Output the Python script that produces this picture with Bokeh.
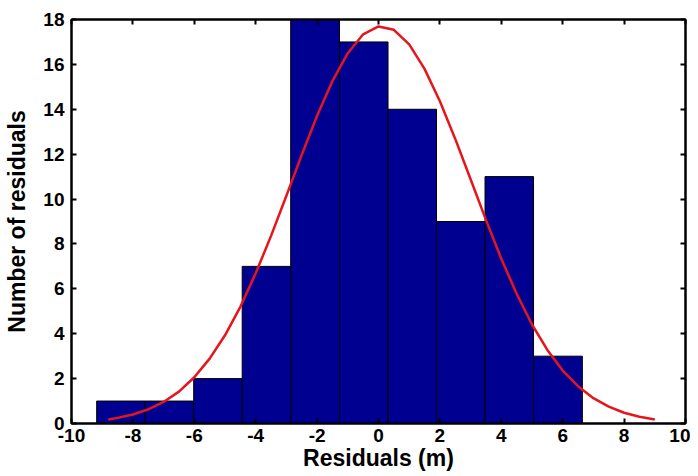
from bokeh.plotting import figure
from bokeh.models import LinearAxis, Range1d, FixedTicker
from bokeh.embed import file_html
from bokeh.resources import INLINE

# Histogram bins (edges) and counts
bin_left = [-9.18, -7.60, -6.02, -4.44, -2.86, -1.27, 0.31, 1.89, 3.47, 5.05]
bin_right = [-7.60, -6.02, -4.44, -2.86, -1.27, 0.31, 1.89, 3.47, 5.05, 6.64]
counts = [1, 1, 2, 7, 18, 17, 14, 9, 11, 3]

# Fitted curve
curve_x = [-8.8, -8.5, -8.0, -7.5, -7.0, -6.5, -6.0, -5.5, -5.0, -4.5, -4.0, -3.5,
           -3.0, -2.5, -2.0, -1.5, -1.0, -0.5, 0.0, 0.5, 1.0, 1.5, 2.0, 2.5, 3.0,
           3.5, 4.0, 4.5, 5.0, 5.5, 6.0, 6.5, 7.0, 7.5, 8.0, 8.5, 9.0]
curve_y = [0.18, 0.25, 0.40, 0.63, 0.96, 1.42, 2.06, 2.89, 3.93, 5.20, 6.69, 8.36,
           10.15, 11.97, 13.71, 15.26, 16.50, 17.34, 17.69, 17.54, 16.89, 15.80, 14.36,
           12.68, 10.88, 9.07, 7.34, 5.78, 4.41, 3.28, 2.36, 1.66, 1.13, 0.75, 0.48,
           0.30, 0.18]

x_ticks = [-10, -8, -6, -4, -2, 0, 2, 4, 6, 8, 10]
x_tick_labels = ["-10", "-8", "-6", "-4", "-2", "0", "2", "4", "6", "8", "10"]
y_ticks = [0, 2, 4, 6, 8, 10, 12, 14, 16, 18]

FONT = "Liberation Sans"

p = figure(width=690, height=476, output_backend="svg", toolbar_location=None,
           x_range=Range1d(-10, 10), y_range=Range1d(0, 18),
           min_border_left=71, min_border_top=19, min_border_right=5, min_border_bottom=53)
p.frame_width = 614
p.frame_height = 404
p.grid.visible = False
p.outline_line_color = "black"
p.outline_line_width = 2

p.quad(left=bin_left, right=bin_right, bottom=0, top=counts,
       fill_color="#000090", line_color="black", line_width=1)
p.line(curve_x, curve_y, line_color="#E8141C", line_width=2.5, line_join="round")

def style(ax, labels=True):
    ax.axis_line_color = "black"
    ax.axis_line_width = 2
    ax.major_tick_in = 5
    ax.major_tick_out = 0
    ax.major_tick_line_width = 2
    ax.minor_tick_line_color = None
    ax.major_label_text_font = FONT
    ax.major_label_text_font_style = "bold"
    ax.major_label_text_font_size = "19px"
    ax.major_label_text_color = "black"
    if not labels:
        ax.major_label_text_color = None

xa = p.xaxis[0]
xa.ticker = FixedTicker(ticks=x_ticks)
xa.major_label_overrides = {t: s for t, s in zip(x_ticks, x_tick_labels)}
style(xa)
xa.major_label_standoff = 5
xa.axis_label = "Residuals (m)"
xa.axis_label_text_font = FONT
xa.axis_label_text_font_style = "bold"
xa.axis_label_text_font_size = "23px"
xa.axis_label_text_color = "black"
xa.axis_label_standoff = 0

ya = p.yaxis[0]
ya.ticker = FixedTicker(ticks=y_ticks)
style(ya)
ya.major_label_standoff = 7
ya.axis_label = "Number of residuals"
ya.axis_label_text_font = FONT
ya.axis_label_text_font_style = "bold"
ya.axis_label_text_font_size = "23px"
ya.axis_label_text_color = "black"
ya.axis_label_standoff = 10

top = LinearAxis(ticker=FixedTicker(ticks=x_ticks))
style(top, labels=False)
top.major_label_text_font_size = "0px"
p.add_layout(top, "above")
right = LinearAxis(ticker=FixedTicker(ticks=y_ticks))
style(right, labels=False)
right.major_label_text_font_size = "0px"
p.add_layout(right, "right")

open("out.html", "w").write(file_html(p, INLINE))
